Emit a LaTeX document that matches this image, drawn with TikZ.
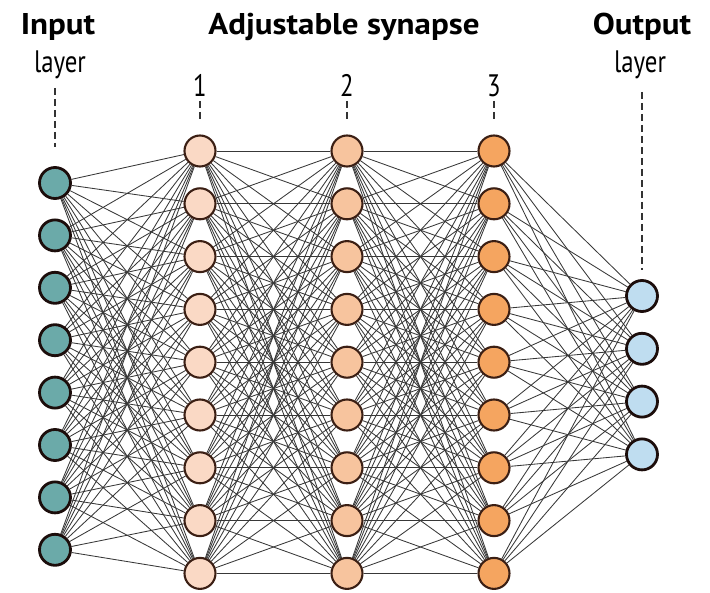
\documentclass[tikz,border=0pt]{standalone}
\usepackage{fontspec}
\setmainfont{PT Sans}
\newfontfamily\headfont[FakeStretch=1.1]{PT Sans}
\newfontfamily\subfont[FakeStretch=0.8]{PT Sans}
\usepackage{xcolor}
\usetikzlibrary{backgrounds}

\definecolor{inteal}{HTML}{6BAAA9}
\definecolor{hidA}{HTML}{FAD9C5}
\definecolor{hidB}{HTML}{F7C49E}
\definecolor{hidC}{HTML}{F5A560}
\definecolor{outblue}{HTML}{BFDDF0}
\definecolor{rimdark}{HTML}{1C0D0B}
\definecolor{rimbrown}{HTML}{3B1F14}

\begin{document}
\begin{tikzpicture}[x=1pt, y=-1pt,
  neuron/.style={circle, draw=rimbrown, line width=2.1pt, minimum size=31pt, inner sep=0pt},
  endneuron/.style={neuron, draw=rimdark, line width=2.8pt},
  synapse/.style={draw=black!78, line width=0.85pt},
  guide/.style={draw=black!80, line width=1.7pt, dash pattern=on 7pt off 4pt},
  head/.style={anchor=base, font=\headfont\fontsize{30}{32}\selectfont\bfseries},
  sub/.style={anchor=base, font=\subfont\fontsize{31}{33}\selectfont}]
\useasboundingbox (0,0) rectangle (710,593);

%Input layer
\foreach \i in {1,...,8}
  \node[endneuron, fill=inteal] (i\i) at (55, {183+52.4*(\i-1)}) {};

%Hidden layers
\foreach \i in {1,...,9} {
  \node[neuron, fill=hidA] (a\i) at (200, {151+52.8*(\i-1)}) {};
  \node[neuron, fill=hidB] (b\i) at (347, {151+52.8*(\i-1)}) {};
  \node[neuron, fill=hidC] (c\i) at (494, {151+52.8*(\i-1)}) {};
}

%Output layer
\foreach \i in {1,...,4}
  \node[endneuron, fill=outblue] (o\i) at (642, {296+52.8*(\i-1)}) {};

%Synapses
\begin{scope}[on background layer]
  \foreach \s in {1,...,9} {
    \foreach \t in {1,...,8}
      \draw[synapse] (i\t) -- (a\s);
    \foreach \t in {1,...,9} {
      \draw[synapse] (a\s) -- (b\t);
      \draw[synapse] (b\s) -- (c\t);
    }
    \foreach \t in {1,...,4}
      \draw[synapse] (c\s) -- (o\t);
  }
\end{scope}

%Labels
\node[head] (tIn) at (58, 35) {Input};
\node[sub] (lIn) at (60, 73) {layer};
\node[head] (tSyn) at (344, 35) {Adjustable synapse};
\node[head] (tOut) at (642, 35) {Output};
\node[sub] (lOut) at (640, 73) {layer};
\node[sub] (n1) at (200, 97) {1};
\node[sub] (n2) at (347, 97) {2};
\node[sub] (n3) at (494, 97) {3};

%Guides
\coordinate (gIn) at (55, 88);
\coordinate (gA) at (200, 101);
\coordinate (gB) at (347, 101);
\coordinate (gC) at (494, 101);
\coordinate (gOut) at (642, 92);
\draw[guide, shorten >=19pt] (gIn) -- (i1);
\draw[guide, shorten >=12pt] (gA) -- (a1);
\draw[guide, shorten >=12pt] (gB) -- (b1);
\draw[guide, shorten >=12pt] (gC) -- (c1);
\draw[guide, shorten >=9pt] (gOut) -- (o1);
\end{tikzpicture}
\end{document}
